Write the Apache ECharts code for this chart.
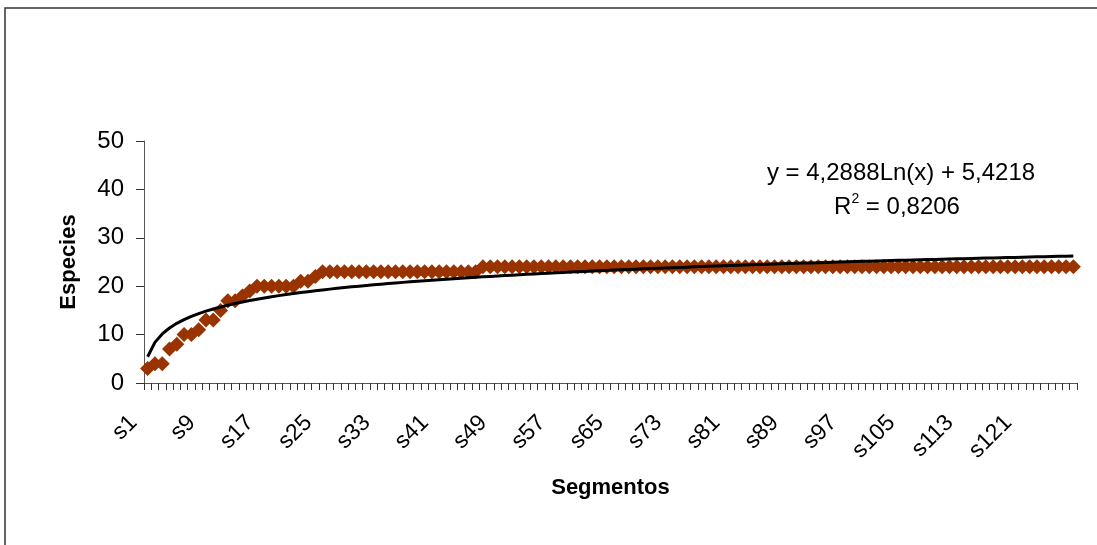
<!DOCTYPE html>
<html>
<head>
<meta charset="utf-8">
<title>Especies por segmento</title>
<script src="https://cdn.jsdelivr.net/npm/echarts@6/dist/echarts.min.js"></script>
<style>
  html, body { margin: 0; padding: 0; background: #fff; }
  #chart { width: 1097px; height: 545px; }
</style>
</head>
<body>
<div id="chart"></div>
<script>
// Segment labels s1 … s128
const segmentos = Array.from({ length: 128 }, (_, i) => 's' + (i + 1));

// Accumulated species count per segment
const especies = [
  3, 4, 4, 7, 8, 10, 10, 11, 13, 13, 15, 17, 17, 18, 19, 20,
  20, 20, 20, 20, 20, 21, 21, 22,
  23, 23, 23, 23, 23, 23, 23, 23, 23, 23, 23, 23, 23, 23, 23, 23,
  23, 23, 23, 23, 23, 23,
  24, 24, 24, 24, 24, 24, 24, 24, 24, 24, 24, 24, 24, 24, 24, 24,
  24, 24, 24, 24, 24, 24, 24, 24, 24, 24, 24, 24, 24, 24, 24, 24,
  24, 24, 24, 24, 24, 24, 24, 24, 24, 24, 24, 24, 24, 24, 24, 24,
  24, 24, 24, 24, 24, 24, 24, 24, 24, 24, 24, 24, 24, 24, 24, 24,
  24, 24, 24, 24, 24, 24, 24, 24, 24, 24, 24, 24, 24, 24, 24, 24,
  24, 24
];

// Logarithmic trend line coefficients: y = a·Ln(x) + b
const trendA = 4.2888;
const trendB = 5.4218;
const trendR2 = 0.8206;

// Y axis ticks
const yMin = 0, yMax = 50, yStep = 10;

const tendencia = segmentos.map((_, i) => trendA * Math.log(i + 1) + trendB);
const fmt = v => String(v).replace('.', ',');

const FONT = '"Liberation Sans", Arial, sans-serif';
const chart = echarts.init(document.getElementById('chart'), null, { renderer: 'canvas' });

chart.setOption({
  animation: false,
  backgroundColor: '#ffffff',
  grid: { left: 144, right: 20, top: 141, bottom: 162, outerBoundsMode: 'none' },
  xAxis: {
    type: 'category',
    data: segmentos,
    boundaryGap: true,
    name: 'Segmentos',
    nameLocation: 'middle',
    nameGap: 94,
    nameTextStyle: { fontFamily: FONT, fontSize: 22, fontWeight: 'bold', color: '#000' },
    axisLine: { show: true, lineStyle: { color: '#555', width: 1 } },
    axisTick: { show: true, interval: 0, length: 7, lineStyle: { color: '#333', width: 1 } },
    axisLabel: {
      interval: 7,
      rotate: 45,
      margin: 22,
      padding: [0, 20, 0, 0],
      fontFamily: FONT,
      fontSize: 23,
      color: '#000'
    },
    splitLine: { show: false }
  },
  yAxis: {
    type: 'value',
    min: yMin,
    max: yMax,
    interval: yStep,
    name: 'Especies',
    nameLocation: 'middle',
    nameRotate: 90,
    nameGap: 64,
    nameTextStyle: { fontFamily: FONT, fontSize: 22, fontWeight: 'bold', color: '#000' },
    axisLine: { show: true, lineStyle: { color: '#555', width: 1 } },
    axisTick: { show: true, length: 8, lineStyle: { color: '#333', width: 1 } },
    axisLabel: { margin: 20, fontFamily: FONT, fontSize: 24, color: '#000' },
    splitLine: { show: false }
  },
  series: [
    {
      name: 'Especies',
      type: 'scatter',
      data: especies,
      symbol: 'diamond',
      symbolSize: [15, 15],
      itemStyle: { color: '#993300', opacity: 1 },
      z: 2
    },
    {
      name: 'Log. (Especies)',
      type: 'line',
      data: tendencia,
      showSymbol: false,
      symbol: 'none',
      smooth: false,
      lineStyle: { color: '#000', width: 3 },
      z: 3
    }
  ],
  graphic: [
    {
      type: 'rect',
      shape: { x: 5, y: 8, width: 1200, height: 700 },
      style: { fill: 'none', stroke: '#333', lineWidth: 1.5 },
      silent: true
    },
    {
      type: 'text',
      x: 901,
      y: 173,
      style: {
        text: 'y = ' + fmt(trendA) + 'Ln(x) + ' + fmt(trendB),
        font: '24px ' + FONT,
        fill: '#000',
        align: 'center',
        verticalAlign: 'middle'
      }
    },
    {
      type: 'text',
      x: 897,
      y: 207,
      style: {
        text: 'R{sup|2} = ' + fmt(trendR2),
        font: '24px ' + FONT,
        fill: '#000',
        align: 'center',
        verticalAlign: 'middle',
        lineHeight: 30,
        rich: {
          sup: { fontSize: 14, fontFamily: FONT, verticalAlign: 'top', lineHeight: 16, fill: '#000' }
        }
      }
    }
  ]
});
</script>
</body>
</html>
